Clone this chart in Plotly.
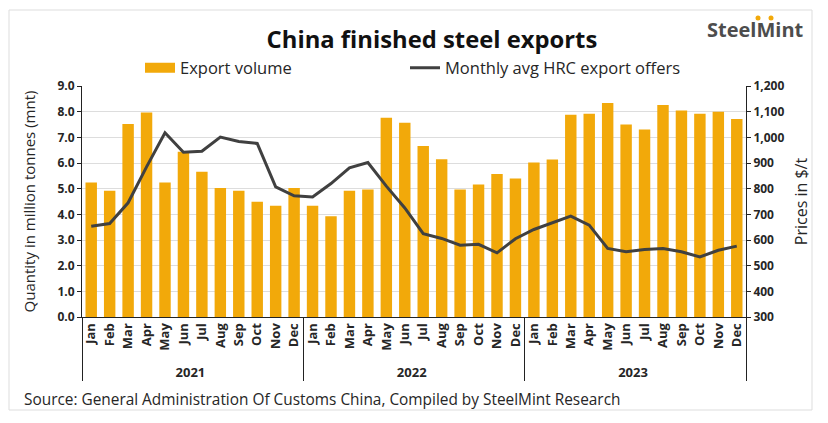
import plotly.graph_objects as go

years = ["2021", "2022", "2023"]
months = ["Jan", "Feb", "Mar", "Apr", "May", "Jun", "Jul", "Aug", "Sep", "Oct", "Nov", "Dec"]

export_volume = [5.24, 4.92, 7.52, 7.97, 5.24, 6.44, 5.66, 5.03, 4.92, 4.49, 4.33, 5.03,
                 4.33, 3.93, 4.92, 4.97, 7.76, 7.57, 6.66, 6.15, 4.97, 5.16, 5.57, 5.40,
                 6.02, 6.14, 7.88, 7.92, 8.34, 7.50, 7.31, 8.26, 8.05, 7.92, 8.00, 7.71]

hrc_offers = [654, 664, 745, 885, 1018, 942, 946, 1001, 984, 976, 807, 772,
              768, 820, 881, 902, 810, 725, 625, 606, 580, 583, 550, 605,
              641, 667, 693, 658, 567, 554, 563, 567, 554, 534, 560, 576]

x_year = [y for y in years for m in months]
x_month = [m for y in years for m in months]
x = [x_year, x_month]

bar_color = "#F2A90A"
line_color = "#404040"
text_color = "#262626"

# plot area in screen pixels (page has an 8px body margin)
PX_L, PX_R, PX_T, PX_B = 82, 746, 86, 317


def px(xp):
    return (xp - PX_L) / (PX_R - PX_L)


def py(yp):
    return (PX_B - yp) / (PX_B - PX_T)


fig = go.Figure()

fig.add_trace(go.Bar(
    x=x, y=export_volume,
    name="Export volume",
    marker=dict(color=bar_color, line=dict(width=0)),
    showlegend=False,
))

# legend-only entry so the swatch is a wide flat rectangle
fig.add_trace(go.Scatter(
    x=[None], y=[None],
    name="Export volume",
    mode="lines",
    line=dict(color=bar_color, width=10),
    legend="legend",
))

fig.add_trace(go.Scatter(
    x=x, y=hrc_offers,
    name="Monthly avg HRC export offers",
    mode="lines",
    line=dict(color=line_color, width=3),
    yaxis="y2",
    legend="legend2",
))

legend_style = dict(
    orientation="h", yanchor="middle", xanchor="left",
    font=dict(size=16.5, color=text_color),
    bgcolor="rgba(0,0,0,0)",
)

dot_r = 2.5
dots = []
for dx in [758, 771]:
    dots.append(dict(
        type="circle", xref="paper", yref="paper",
        x0=px(dx - dot_r), x1=px(dx + dot_r),
        y0=py(18 + dot_r), y1=py(18 - dot_r),
        fillcolor="#F2A90A", line=dict(width=0),
    ))

fig.update_layout(
    width=820, height=415,
    margin=dict(l=74, r=82, t=78, b=106, autoexpand=False),
    paper_bgcolor="white",
    plot_bgcolor="white",
    bargap=0.38,
    font=dict(family="Open Sans", color=text_color, size=12),
    title=dict(
        text="<b>China finished steel exports</b>",
        x=0.517, xanchor="center", y=0.923, yanchor="middle",
        font=dict(family="Open Sans", size=23.8, color="#111111"),
    ),
    legend=dict(x=px(140), y=py(68), **legend_style),
    legend2=dict(x=px(405), y=py(68), **legend_style),
    xaxis=dict(
        type="multicategory",
        tickangle=-90,
        tickfont=dict(size=13, color=text_color, weight="bold"),
        showline=True, linecolor="#222222", linewidth=1,
        showdividers=True, dividercolor="#222222", dividerwidth=1,
        showgrid=False,
    ),
    yaxis=dict(
        range=[0, 9], dtick=1, tickformat=".1f",
        showgrid=True, gridcolor="#DDDDDD",
        showline=True, linecolor="#222222", linewidth=1,
        ticks="outside", ticklen=4, tickcolor="#222222",
        tickfont=dict(size=12, weight="bold", color=text_color),
        title=dict(text="Quantity in million tonnes (mnt)",
                   font=dict(size=15, color=text_color), standoff=18),
        zeroline=False,
    ),
    yaxis2=dict(
        range=[300, 1200], dtick=100, tickformat=",",
        overlaying="y", side="right",
        showgrid=False,
        showline=True, linecolor="#222222", linewidth=1,
        ticks="outside", ticklen=4, tickcolor="#222222",
        tickfont=dict(size=12, weight="bold", color=text_color),
        title=dict(text="Prices in $/t", font=dict(size=16, color=text_color), standoff=12),
        zeroline=False,
    ),
    shapes=[dict(
        type="rect", xref="paper", yref="paper",
        x0=px(9), x1=px(812), y0=py(410), y1=py(10),
        line=dict(color="#DDDDDD", width=1), fillcolor="rgba(0,0,0,0)",
        layer="below",
    )] + dots,
    annotations=[
        dict(
            text="Source: General Administration Of Customs China, Compiled by SteelMint Research",
            xref="paper", yref="paper", x=px(22), y=py(399),
            xanchor="left", yanchor="middle", showarrow=False,
            font=dict(size=15.4, color=text_color),
        ),
        dict(
            text="<b>SteelMint</b>",
            xref="paper", yref="paper", x=px(755), y=py(29),
            xanchor="center", yanchor="middle", showarrow=False,
            font=dict(size=20, color="#4D4D4D"),
        ),
    ],
)

fig.write_html("out.html")
